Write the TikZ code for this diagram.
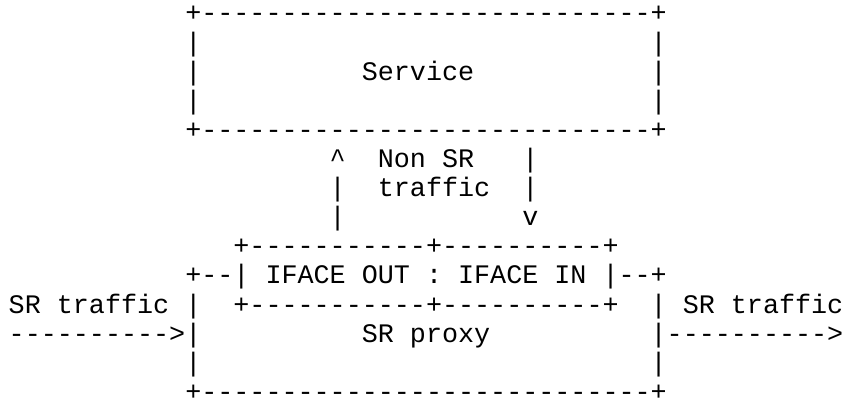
\documentclass[tikz,border=0pt]{standalone}
\usepackage{fontspec}
\setmonofont{Liberation Mono}
\usepackage{tikz}

\tikzset{
	ascii/.style={anchor=base west, inner sep=0pt, outer sep=0pt,
		font=\ttfamily\fontsize{26.75pt}{29.1pt}\selectfont},
}

\begin{document}
\begin{tikzpicture}[x=16.048pt, y=-29.1pt]
	\useasboundingbox (0pt,0pt) rectangle (846pt,-401pt);

	\begin{scope}[shift={(8.75pt,-22pt)}]
	% service box
	\node[ascii] (srvtop) at (11,0) {+----------------------------+};
	\foreach \r in {1,2,3} {
	  \node[ascii] (srvl\r) at (11,\r) {|};
	  \node[ascii] (srvr\r) at (40,\r) {|};
	}
	\node[ascii] (service) at (22,2) {Service};
	\node[ascii] (srvbot) at (11,4) {+----------------------------+};

	% non SR traffic up and down
	\node[ascii] (up) at (20,5) {\textasciicircum};
	\node[ascii] (upl6) at (20,6) {|};
	\node[ascii] (upl7) at (20,7) {|};
	\node[ascii] (nonsr) at (23,5) {Non SR};
	\node[ascii] (nonsrtraffic) at (23,6) {traffic};
	\node[ascii] (dnl5) at (32,5) {|};
	\node[ascii] (dnl6) at (32,6) {|};
	\node[ascii] (down) at (32,7) {v};

	% interfaces
	\node[ascii] (ifacetop) at (14,8) {+-----------+----------+};
	\node[ascii] (iface) at (11,9) {+--|~IFACE~OUT~:~IFACE~IN~|--+};
	\node[ascii] (ifacebot) at (14,10) {+-----------+----------+};

	% SR proxy box
	\foreach \r in {10,11,12} {
	  \node[ascii] (pxyl\r) at (11,\r) {|};
	  \node[ascii] (pxyr\r) at (40,\r) {|};
	}
	\node[ascii] (proxy) at (22,11) {SR proxy};
	\node[ascii] (pxybot) at (11,13) {+----------------------------+};

	% SR traffic in and out
	\node[ascii] (inlabel) at (0,10) {SR traffic};
	\node[ascii] (inarrow) at (0,11) {---------->};
	\node[ascii] (outlabel) at (42,10) {SR traffic};
	\node[ascii] (outarrow) at (41,11) {---------->};
	\end{scope}
\end{tikzpicture}
\end{document}
